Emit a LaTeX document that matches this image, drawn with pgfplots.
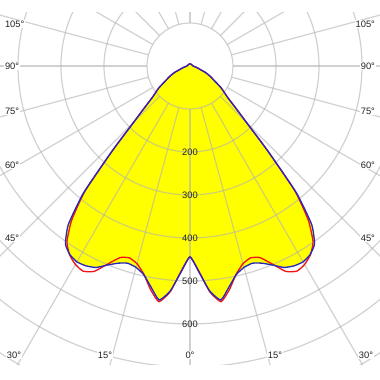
\documentclass[border=0pt]{standalone}
\usepackage{fontspec}
\setmainfont{Liberation Sans}
\usepackage{pgfplots}
\pgfplotsset{compat=1.18}
\usepackage{pgfplotstable}
\definecolor{gridc}{gray}{0.70}
\definecolor{txt}{RGB}{35,35,35}
\definecolor{cblue}{RGB}{40,40,190}
\definecolor{cred}{RGB}{240,20,20}
\definecolor{cyel}{RGB}{255,255,0}

% a = signed gamma (deg, negative = left half), b = blue plane (cd), r = red plane (cd)
\pgfplotstableread{
a b r
-180 5 5
-135 5 5
-90 7 7
-85 9 9
-80 13 13
-75 19 19
-70 28 28
-67.5 38 38
-65 46 46
-62.5 54 54
-60 62 62
-57.5 73 73
-55 88 88
-52.5 100 100
-50 115 115
-47.5 143 143
-45 186 186
-42.5 268 266
-40 385 380
-37.5 465 452
-35 505 499
-32.5 520 521
-30 526 533
-27.5 524 538
-25 517 527
-22.5 501 498
-20 488 474
-17.5 481 468
-15 485 476
-12.5 497 496
-10 522 528
-7.5 549 553
-5 525 527
-2.5 480 478
0 444 444
2.5 480 478
5 525 527
7.5 549 553
10 522 528
12.5 497 496
15 485 476
17.5 481 468
20 488 474
22.5 501 498
25 517 527
27.5 524 538
30 526 533
32.5 520 521
35 505 499
37.5 465 452
40 385 380
42.5 268 266
45 186 186
47.5 143 143
50 115 115
52.5 100 100
55 88 88
57.5 73 73
60 62 62
62.5 54 54
65 46 46
67.5 38 38
70 28 28
75 19 19
80 13 13
85 9 9
90 7 7
135 5 5
180 5 5
}\data

\tikzset{lab/.style={font=\fontsize{7}{8}\selectfont, text=txt, inner sep=0.6pt},
         alab/.style={lab, fill=white}}

\begin{document}
\begin{tikzpicture}
\begin{axis}[name=ax, width=10cm, height=9.263cm, scale only axis,
  xmin=-441.86, xmax=441.86, ymin=-695.35, ymax=123.26,
  hide axis]
% yellow area
\addplot[draw=none, fill=cyel, data cs=polar, smooth, tension=0.3]
  table[x expr=\thisrow{a}-90, y=b] {\data};
% grid
\pgfplotsinvokeforeach{100,200,...,800}{
  \draw[gridc, line width=0.9pt, opacity=0.6] (axis cs:0,0) circle[radius=#1];
}
\pgfplotsinvokeforeach{0,15,...,345}{
  \draw[gridc, line width=0.9pt, opacity=0.6]
    (axis cs:{100*cos(#1)},{100*sin(#1)}) -- (axis cs:{1100*cos(#1)},{1100*sin(#1)});
}
% curves
\addplot[cred, line width=1pt, data cs=polar, smooth, tension=0.3]
  table[x expr=\thisrow{a}-90, y=r] {\data};
\addplot[cblue, line width=1pt, data cs=polar, smooth, tension=0.3]
  table[x expr=\thisrow{a}-90, y=b] {\data};
% value labels
\pgfplotsinvokeforeach{200,300,400,500,600}{
  \node[lab] at (axis cs:0,-#1) {#1};
}
% angle labels
\node[alab, anchor=west] at (axis cs:-432.6,97.7) {105°};
\node[alab, anchor=west] at (axis cs:-432.6,0) {90°};
\node[alab, anchor=west] at (axis cs:-432.6,-104.7) {75°};
\node[alab, anchor=west] at (axis cs:-432.6,-230.2) {60°};
\node[alab, anchor=west] at (axis cs:-432.6,-400) {45°};
\node[alab, anchor=east] at (axis cs:432.6,97.7) {105°};
\node[alab, anchor=east] at (axis cs:432.6,0) {90°};
\node[alab, anchor=east] at (axis cs:432.6,-104.7) {75°};
\node[alab, anchor=east] at (axis cs:432.6,-230.2) {60°};
\node[alab, anchor=east] at (axis cs:432.6,-400) {45°};
\node[alab] at (axis cs:-409.3,-672.1) {30°};
\node[alab] at (axis cs:-197.7,-672.1) {15°};
\node[alab] at (axis cs:0,-672.1) {0°};
\node[alab] at (axis cs:197.7,-672.1) {15°};
\node[alab] at (axis cs:409.3,-672.1) {30°};
\end{axis}
\path ([yshift=-0.395cm]ax.south west) rectangle ([yshift=0.342cm]ax.north east);
\end{tikzpicture}
\end{document}
